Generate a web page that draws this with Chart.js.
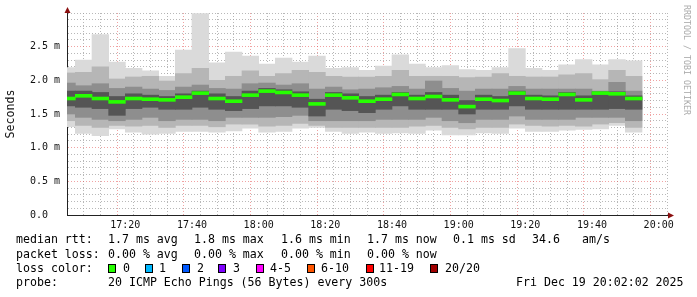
<!DOCTYPE html>
<html>
<head>
<meta charset="utf-8">
<script src="https://cdn.jsdelivr.net/npm/chart.js@4"></script>
<style>
    html, body { margin: 0; padding: 0; background: #fff; overflow: hidden; }
    #wrap { position: relative; width: 697px; height: 297px; font-family: 'DejaVu Sans Mono', monospace; font-size: 11.6px; color: #000; }
    #wrap canvas { position: absolute; left: 0; top: 0; }
    .t { position: absolute; white-space: pre; line-height: 14px; }
    .box { position: absolute; width: 6px; height: 7px; border: 1px solid #000; }
    #mark { position: absolute; left: 692px; top: 5px; transform: rotate(90deg); transform-origin: 0 0; font-size: 8.3px; line-height: 10px; color: #aaa; white-space: pre; }
</style>
</head>
<body>
<div id="wrap">
    <canvas id="smoke" width="697" height="297"></canvas>
    <div id="mark">RRDTOOL / TOBI OETIKER</div>

    <div class="t" style="left:16px;top:232px">median rtt:</div>
    <div class="t" style="left:108px;top:232px">1.7 ms avg</div>
    <div class="t" style="left:194px;top:232px">1.8 ms max</div>
    <div class="t" style="left:281px;top:232px">1.6 ms min</div>
    <div class="t" style="left:367px;top:232px">1.7 ms now</div>
    <div class="t" style="left:453px;top:232px">0.1 ms sd</div>
    <div class="t" style="left:532px;top:232px">34.6</div>
    <div class="t" style="left:582px;top:232px">am/s</div>

    <div class="t" style="left:16px;top:247px">packet loss:</div>
    <div class="t" style="left:108px;top:247px">0.00 % avg</div>
    <div class="t" style="left:194px;top:247px">0.00 % max</div>
    <div class="t" style="left:281px;top:247px">0.00 % min</div>
    <div class="t" style="left:367px;top:247px">0.00 % now</div>

    <div class="t" style="left:16px;top:261px">loss color:</div>
    <div id="lossRow"></div>

    <div class="t" style="left:16px;top:275px">probe:</div>
    <div class="t" style="left:108px;top:275px">20 ICMP Echo Pings (56 Bytes) every 300s</div>
    <div class="t" style="left:516px;top:275px">Fri Dec 19 20:02:02 2025</div>
</div>

<script>
// start of each 5 minute step
const slots = ['17:00','17:05','17:10','17:15','17:20','17:25','17:30','17:35','17:40','17:45','17:50','17:55',
               '18:00','18:05','18:10','18:15','18:20','18:25','18:30','18:35','18:40','18:45','18:50','18:55',
               '19:00','19:05','19:10','19:15','19:20','19:25','19:30','19:35','19:40','19:45','19:50'];

// ping spread per step, ms (outer -> inner)
const maxV = [2.19,2.30,2.68,2.27,2.18,2.14,2.06,2.45,2.99,2.26,2.42,2.36,2.24,2.33,2.27,2.36,2.18,2.19,2.15,2.21,2.38,2.24,2.19,2.22,2.16,2.15,2.19,2.47,2.18,2.15,2.23,2.31,2.23,2.31,2.29];
const hi1  = [2.11,2.12,2.20,2.02,2.05,2.06,1.99,2.10,2.18,2.00,2.06,2.14,2.06,2.10,2.15,2.12,2.06,2.05,2.05,2.06,2.15,2.06,2.06,2.06,2.04,2.05,2.10,2.06,2.05,2.05,2.08,2.10,2.01,2.15,2.06];
const hi2  = [1.96,1.92,1.95,1.88,1.90,1.87,1.85,1.90,1.93,1.88,1.87,1.95,1.96,1.93,1.95,1.87,1.90,1.86,1.87,1.89,1.91,1.87,1.99,1.88,1.84,1.87,1.87,1.91,1.87,1.87,1.87,1.87,1.84,1.97,1.84];
const hi3  = [1.84,1.84,1.82,1.76,1.80,1.78,1.76,1.80,1.84,1.80,1.76,1.84,1.88,1.86,1.83,1.72,1.82,1.80,1.76,1.78,1.82,1.78,1.82,1.78,1.70,1.78,1.76,1.84,1.78,1.77,1.82,1.77,1.83,1.83,1.77];
const median = [1.73,1.77,1.73,1.68,1.73,1.72,1.71,1.75,1.81,1.73,1.69,1.78,1.84,1.82,1.78,1.65,1.78,1.74,1.69,1.72,1.79,1.73,1.76,1.71,1.61,1.72,1.70,1.81,1.73,1.72,1.79,1.71,1.81,1.80,1.73];
const lo3  = [1.62,1.60,1.58,1.48,1.58,1.60,1.57,1.57,1.60,1.57,1.55,1.58,1.62,1.62,1.60,1.47,1.57,1.55,1.52,1.57,1.62,1.57,1.57,1.57,1.50,1.57,1.57,1.62,1.57,1.57,1.57,1.57,1.57,1.58,1.57];
const lo2  = [1.50,1.45,1.42,1.40,1.42,1.45,1.40,1.42,1.42,1.40,1.45,1.45,1.45,1.46,1.48,1.40,1.40,1.40,1.40,1.42,1.42,1.42,1.45,1.40,1.37,1.42,1.42,1.47,1.42,1.42,1.42,1.45,1.45,1.45,1.40];
const lo1  = [1.40,1.33,1.30,1.33,1.32,1.33,1.30,1.33,1.33,1.31,1.35,1.35,1.32,1.33,1.36,1.33,1.30,1.30,1.30,1.30,1.30,1.32,1.33,1.30,1.28,1.30,1.30,1.35,1.33,1.32,1.33,1.32,1.35,1.37,1.30];
const minV = [1.31,1.21,1.18,1.28,1.23,1.20,1.21,1.24,1.24,1.23,1.25,1.29,1.23,1.24,1.29,1.30,1.24,1.21,1.23,1.21,1.22,1.21,1.26,1.19,1.19,1.22,1.21,1.29,1.24,1.24,1.26,1.27,1.28,1.33,1.23];

const xTickLabels = ['17:20','17:40','18:00','18:20','18:40','19:00','19:20','19:40','20:00'];
const yTickValues = [0, 0.5, 1.0, 1.5, 2.0, 2.5];
const yTickLabels = ['0.0  ','0.5 m','1.0 m','1.5 m','2.0 m','2.5 m'];

const lossLabels = ['0','1','2','3','4-5','6-10','11-19','20/20'];
const lossColors = ['#26ff00','#00b8ff','#0059ff','#7e00ff','#ff00ff','#ff5500','#ff0000','#a10000'];

// minutes after 17:00
const toMin = s => { const [h, m] = s.split(':').map(Number); return (h - 17) * 60 + m; };
const fmt = v => { const h = 17 + Math.floor(v / 60), m = Math.round(v % 60); return h + ':' + String(m).padStart(2, '0'); };

const MINOR = 'rgba(160,160,160,0.75)';
const MAJOR = 'rgba(225,70,70,0.5)';
const MONO = 'DejaVu Sans Mono';

// loss colour legend
const lossBoxX = [108, 145, 182, 218, 256, 307, 366, 430];
const lossTextX = [123, 159, 197, 233, 270, 321, 379, 445];
let lossHtml = '';
lossLabels.forEach((l, i) => {
    lossHtml += `<div class="box" style="left:${lossBoxX[i]}px;top:264px;background:${lossColors[i]}"></div>`;
    lossHtml += `<div class="t" style="left:${lossTextX[i]}px;top:261px">${l}</div>`;
});
document.getElementById('lossRow').innerHTML = lossHtml;

const layers = [
    { lo: minV, hi: maxV, color: '#dadada' },
    { lo: lo1, hi: hi1, color: '#b6b6b6' },
    { lo: lo2, hi: hi2, color: '#8e8e8e' },
    { lo: lo3, hi: hi3, color: '#555555' }
];

const barBase = { grouped: false, barPercentage: 1, categoryPercentage: 1, borderWidth: 0, clip: 0 };

const datasets = layers.map((L, k) => Object.assign({
    label: 'smoke' + k,
    data: slots.map((s, i) => ({ x: toMin(s) + 2.5, y: [L.lo[i], L.hi[i]] })),
    backgroundColor: L.color,
    order: 10 - k
}, barBase));

datasets.push(Object.assign({
    label: 'median rtt',
    data: slots.map((s, i) => ({ x: toMin(s) + 2.5, y: [median[i] - 0.022, median[i] + 0.022] })),
    backgroundColor: '#26ff00',
    order: 0
}, barBase));

const arrows = {
    id: 'arrows',
    afterDraw(chart) {
        const { ctx, chartArea: a } = chart;
        ctx.save();
        ctx.strokeStyle = '#222';
        ctx.beginPath();
        ctx.moveTo(a.right, a.bottom + 0.5);
        ctx.lineTo(a.right + 3, a.bottom + 0.5);
        ctx.stroke();
        ctx.fillStyle = '#8b1010';
        ctx.beginPath();
        ctx.moveTo(a.left - 2.5, a.top);
        ctx.lineTo(a.left + 3.5, a.top);
        ctx.lineTo(a.left + 0.5, a.top - 6);
        ctx.closePath();
        ctx.fill();
        ctx.beginPath();
        ctx.moveTo(a.right + 1, a.bottom - 2.5);
        ctx.lineTo(a.right + 1, a.bottom + 3.5);
        ctx.lineTo(a.right + 7, a.bottom + 0.5);
        ctx.closePath();
        ctx.fill();
        ctx.restore();
    }
};

const isYMajor = v => yTickValues.findIndex(t => Math.abs(t - v) < 1e-6);

new Chart(document.getElementById('smoke'), {
    type: 'bar',
    data: { datasets },
    options: {
        responsive: false,
        animation: false,
        events: [],
        layout: { padding: { top: 13, right: 30, bottom: 0, left: 0 } },
        plugins: { legend: { display: false }, tooltip: { enabled: false } },
        scales: {
            x: {
                type: 'linear',
                min: 2.5,
                max: 182.5,
                offset: false,
                z: 1,
                afterBuildTicks: s => {
                    const t = [];
                    for (let m = 5; m <= 180; m += 5) t.push({ value: m });
                    s.ticks = t;
                },
                afterFit: s => { s.height = 82; },
                grid: {
                    drawTicks: false,
                    color: c => (c.tick && xTickLabels.includes(fmt(c.tick.value))) ? MAJOR : MINOR
                },
                border: { display: true, color: '#222', width: 1, dash: [1, 2] },
                ticks: {
                    autoSkip: false,
                    maxRotation: 0,
                    padding: 4,
                    color: '#111',
                    font: { family: MONO, size: 10 },
                    callback: v => xTickLabels.includes(fmt(v)) ? fmt(v) : ''
                }
            },
            y: {
                min: 0,
                max: 3,
                z: 1,
                afterFit: s => { s.width = 67; },
                grid: {
                    drawTicks: false,
                    color: c => (c.tick && isYMajor(c.tick.value) > 0) ? MAJOR : MINOR
                },
                border: { display: true, color: '#222', width: 1, dash: [1, 2] },
                ticks: {
                    stepSize: 0.1,
                    autoSkip: false,
                    padding: 7,
                    color: '#111',
                    font: { family: MONO, size: 10 },
                    callback: v => { const i = isYMajor(v); return i >= 0 ? yTickLabels[i] : ''; }
                },
                title: {
                    display: true,
                    text: 'Seconds',
                    color: '#111',
                    padding: { top: 4, bottom: 0 },
                    font: { family: MONO, size: 11.6 }
                }
            }
        }
    },
    plugins: [arrows]
});
</script>
</body>
</html>
